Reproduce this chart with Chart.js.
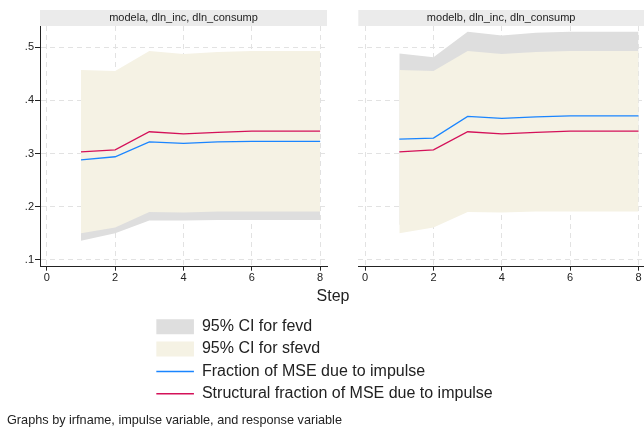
<!DOCTYPE html>
<html>
<head>
<meta charset="utf-8">
<script src="https://cdn.jsdelivr.net/npm/chart.js@4.4.0/dist/chart.umd.min.js"></script>
<style>
  html, body { margin: 0; padding: 0; background: #fff; overflow: hidden; }
  #wrap { position: relative; width: 644px; height: 428px; }
  canvas { position: absolute; }
</style>
</head>
<body>
<div id="wrap">
  <canvas id="panelA" width="350" height="428" style="left:0px;top:0px"></canvas>
  <canvas id="panelB" width="314" height="290" style="left:330px;top:0px"></canvas>
  <canvas id="legendC" width="366" height="140" style="left:150px;top:282px"></canvas>
</div>
<script>
const steps = [1, 2, 3, 4, 5, 6, 7, 8];
const xTicks = [0, 2, 4, 6, 8];
const yTicks = [0.1, 0.2, 0.3, 0.4, 0.5];
const panelTitles = ['modela, dln_inc, dln_consump', 'modelb, dln_inc, dln_consump'];
const footNote = 'Graphs by irfname, impulse variable, and response variable';

// modela
const fevdA    = [0.288, 0.294, 0.322, 0.319, 0.322, 0.323, 0.323, 0.323];
const fevdLoA  = [0.136, 0.150, 0.174, 0.174, 0.175, 0.175, 0.175, 0.175];
const fevdHiA  = [0.440, 0.438, 0.470, 0.464, 0.469, 0.471, 0.471, 0.471];
const sfevdA   = [0.303, 0.307, 0.341, 0.337, 0.340, 0.342, 0.342, 0.342];
const sfevdLoA = [0.150, 0.161, 0.190, 0.189, 0.191, 0.191, 0.191, 0.191];
const sfevdHiA = [0.457, 0.455, 0.493, 0.487, 0.491, 0.493, 0.493, 0.493];

// modelb
const fevdB    = [0.327, 0.329, 0.370, 0.366, 0.369, 0.371, 0.371, 0.371];
const fevdLoB  = [0.166, 0.177, 0.211, 0.210, 0.211, 0.213, 0.213, 0.213];
const fevdHiB  = [0.488, 0.481, 0.529, 0.522, 0.527, 0.529, 0.529, 0.529];
const sfevdB   = [0.303, 0.307, 0.341, 0.337, 0.340, 0.342, 0.342, 0.342];
const sfevdLoB = [0.150, 0.161, 0.190, 0.189, 0.191, 0.191, 0.191, 0.191];
const sfevdHiB = [0.457, 0.455, 0.493, 0.487, 0.491, 0.493, 0.493, 0.493];

const red = '#d41159', blue = '#1a85ff';
const ciGray = '#dedede', ciBeige = '#f5f2e4';
const stripColor = '#ebebeb', gridColor = '#e2e2e2', axisColor = '#222';
const clear = 'rgba(0,0,0,0)';

Chart.defaults.font.family = '"Liberation Sans", Arial, sans-serif';
Chart.defaults.color = '#222';

function toPoints(vals) {
  return vals.map((v, i) => ({ x: steps[i], y: v }));
}

function makeDatasets(fevd, fevdLo, fevdHi, sfevd, sfevdLo, sfevdHi) {
  return [
    { label: 'Structural fraction of MSE due to impulse', data: toPoints(sfevd),
      borderColor: red, backgroundColor: red, borderWidth: 1.3, pointRadius: 0,
      pointStyle: 'line', pointBorderWidth: 1.5, fill: false },
    { label: 'Fraction of MSE due to impulse', data: toPoints(fevd),
      borderColor: blue, backgroundColor: blue, borderWidth: 1.3, pointRadius: 0,
      pointStyle: 'line', pointBorderWidth: 1.5, fill: false },
    { label: '95% CI for sfevd', data: toPoints(sfevdHi),
      borderColor: clear, backgroundColor: ciBeige, borderWidth: 0, pointRadius: 0,
      pointStyle: 'rect', pointBorderWidth: 0, fill: '+1' },
    { label: '', data: toPoints(sfevdLo),
      borderColor: clear, backgroundColor: ciBeige, borderWidth: 0, pointRadius: 0, fill: false },
    { label: '95% CI for fevd', data: toPoints(fevdHi),
      borderColor: clear, backgroundColor: ciGray, borderWidth: 0, pointRadius: 0,
      pointStyle: 'rect', pointBorderWidth: 0, fill: '+1' },
    { label: '', data: toPoints(fevdLo),
      borderColor: clear, backgroundColor: ciGray, borderWidth: 0, pointRadius: 0, fill: false }
  ];
}

// grey strip behind each panel title
const stripBackground = {
  id: 'stripBackground',
  beforeDraw(chart) {
    const t = chart.titleBlock;
    if (!t) return;
    const ctx = chart.ctx;
    ctx.save();
    ctx.fillStyle = stripColor;
    ctx.fillRect(t.left, t.top, t.width, t.height);
    ctx.restore();
  }
};

function panelScales(showY, xMax, yWidth, xHeight) {
  return {
    x: {
      type: 'linear', min: -0.2, max: xMax,
      afterBuildTicks: s => { s.ticks = xTicks.map(v => ({ value: v })); },
      afterFit: s => { s.height = xHeight; },
      ticks: { font: { size: 11 }, padding: 1, maxRotation: 0, color: '#222' },
      grid: { color: gridColor, tickColor: axisColor, tickLength: 4 },
      border: { display: true, color: axisColor, width: 1, dash: [5, 4] }
    },
    y: {
      type: 'linear', min: 0.0874, max: 0.5398,
      afterBuildTicks: s => { s.ticks = yTicks.map(v => ({ value: v })); },
      afterFit: s => { s.width = yWidth; },
      ticks: { display: showY, font: { size: 11 }, padding: 1, color: '#222',
               callback: v => String(v).replace(/^0\./, '.') },
      grid: { color: gridColor, tickColor: axisColor, tickLength: 5, drawTicks: showY },
      border: { display: showY, color: axisColor, width: 1, dash: [5, 4] }
    }
  };
}

function stripTitle(text) {
  return { display: true, text: text, position: 'top', fullSize: false,
           font: { size: 11, weight: 'normal' }, color: '#222', padding: { top: 1.4, bottom: 1.4 } };
}

// left panel, also carries the note at the bottom
const scalesA = panelScales(true, 8.2, 33, 20);
scalesA.yPad = {
  type: 'linear', position: 'right', display: true,
  afterFit: s => { s.width = 23; },
  ticks: { display: false }, grid: { display: false, drawTicks: false }, border: { display: false }
};
new Chart(document.getElementById('panelA'), {
  type: 'line',
  data: { datasets: makeDatasets(fevdA, fevdLoA, fevdHiA, sfevdA, sfevdLoA, sfevdHiA) },
  options: {
    responsive: false, animation: false,
    layout: { padding: { left: 7, right: 0, top: 10, bottom: 0 } },
    scales: scalesA,
    plugins: {
      legend: { display: false },
      tooltip: { enabled: false },
      title: stripTitle(panelTitles[0]),
      subtitle: { display: true, text: footNote, position: 'bottom', align: 'start',
                  font: { size: 12.7 }, color: '#222', padding: { top: 126.1, bottom: 0 } }
    }
  },
  plugins: [stripBackground]
});

// right panel
new Chart(document.getElementById('panelB'), {
  type: 'line',
  data: { datasets: makeDatasets(fevdB, fevdLoB, fevdHiB, sfevdB, sfevdLoB, sfevdHiB) },
  options: {
    responsive: false, animation: false,
    layout: { padding: { left: 0.3, right: 0, top: 10, bottom: 0 } },
    scales: panelScales(false, 8.16, 28, 23.34),
    plugins: {
      legend: { display: false },
      tooltip: { enabled: false },
      title: stripTitle(panelTitles[1])
    }
  },
  plugins: [stripBackground]
});

// axis title and shared legend
new Chart(document.getElementById('legendC'), {
  type: 'line',
  data: { datasets: makeDatasets([], [], [], [], [], []) },
  options: {
    responsive: false, animation: false,
    layout: { padding: 0 },
    scales: { x: { type: 'linear', display: false }, y: { display: false } },
    plugins: {
      tooltip: { enabled: false },
      title: { display: true, text: 'Step', font: { size: 16, weight: 'normal' }, color: '#222',
               padding: { top: 4.9, bottom: 6.3 } },
      legend: {
        position: 'left', align: 'start', reverse: true, fullSize: false, maxWidth: 360,
        labels: {
          usePointStyle: true, pointStyleWidth: 37.6, boxHeight: 15,
          font: { size: 16 }, color: '#222', padding: 6.33,
          filter: item => item.text !== ''
        }
      }
    }
  }
});
</script>
</body>
</html>
